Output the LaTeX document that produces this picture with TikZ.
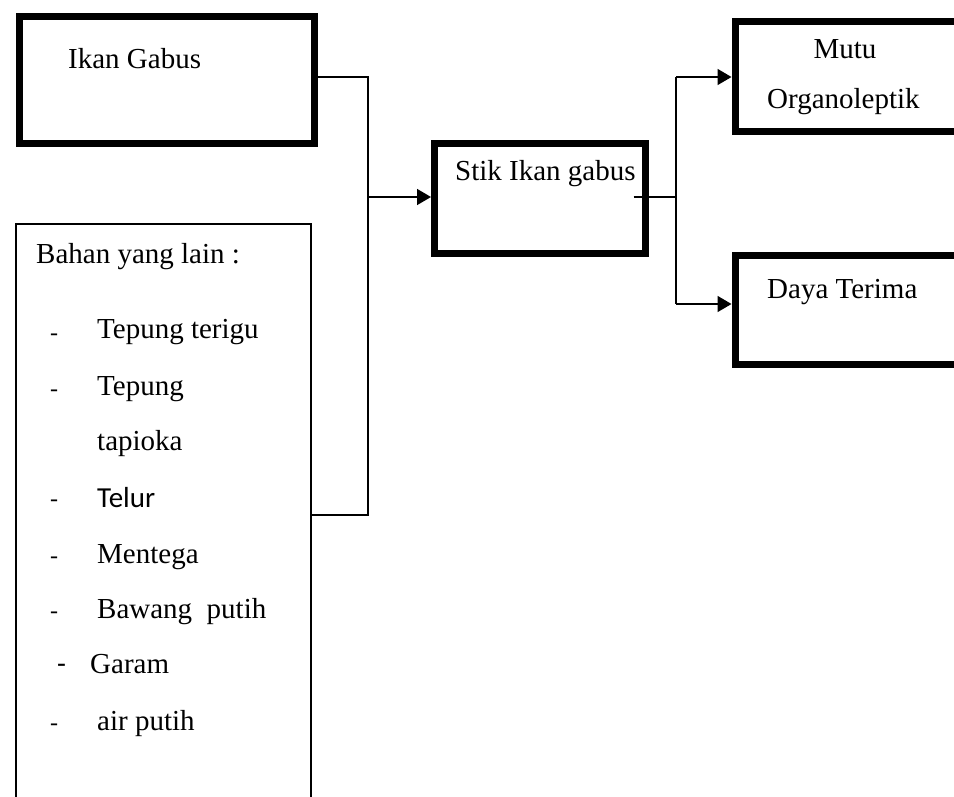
\documentclass[tikz,border=0pt]{standalone}
\usepackage{fontspec}
\setmainfont{Liberation Serif}
\newfontfamily\calfont{Carlito}
\usetikzlibrary{arrows.meta}
\tikzset{
  thickbox/.style={draw, line width=7pt, rectangle, inner sep=0pt, anchor=north west},
  thinbox/.style={draw, line width=2pt, rectangle, inner sep=0pt, anchor=north west},
  lbl/.style={font=\fontsize{29}{34}\selectfont, inner sep=0pt, anchor=base west},
  dashmark/.style={font=\fontsize{24}{28}\selectfont, inner sep=0pt, anchor=center},
  conn/.style={line width=1.6pt},
  arr/.style={line width=1.6pt, -{Triangle[length=14pt,width=16pt]}}
}
\begin{document}
\begin{tikzpicture}[x=1pt,y={(0pt,-1pt)}]
\useasboundingbox (0,0) rectangle (954,796);
% boxes
\node[thickbox, minimum width=295pt, minimum height=127pt] (ikan) at (15.5,12.5) {};
\node[thinbox, minimum width=295pt, minimum height=600pt] (bahan) at (15,223) {};
\node[thickbox, minimum width=210.5pt, minimum height=110pt] (stik) at (431,140) {};
\node[thickbox, minimum width=240pt, minimum height=110pt] (mutu) at (731.5,18) {};
\node[thickbox, minimum width=240pt, minimum height=109.5pt] (daya) at (731.5,251.5) {};
% texts
\node[lbl] (tikan) at (68,68) {Ikan Gabus};
\node[lbl] (tstik) at (455,180) {Stik Ikan gabus};
\node[lbl, anchor=base] (tmutu) at (845,58) {Mutu};
\node[lbl] (torg) at (767,108) {Organoleptik};
\node[lbl] (tdaya) at (767,298) {Daya Terima};
\node[lbl] (tbahan) at (36,263) {Bahan yang lain :};
\node[lbl] (i1) at (97,338) {Tepung terigu};
\node[lbl] (i2) at (97,395) {Tepung};
\node[lbl] (i3) at (97,450) {tapioka};
\node[lbl, font=\calfont\fontsize{29}{34}\selectfont] (i4) at (97,507) {Telur};
\node[lbl] (i5) at (97,563) {Mentega};
\node[lbl] (i6) at (97,618) {Bawang\ \ putih};
\node[lbl] (i7) at (90,673) {Garam};
\node[lbl] (i8) at (97,730) {air putih};
\node[dashmark] (d1) at (54,337) {-};
\node[dashmark] (d2) at (54,393) {-};
\node[dashmark] (d4) at (54,503) {-};
\node[dashmark] (d5) at (54,560) {-};
\node[dashmark] (d6) at (54,615) {-};
\node[lbl, font=\calfont\fontsize{29}{34}\selectfont] (d7) at (57,673) {-};
\node[dashmark] (d8) at (54,727) {-};
% connectors
\coordinate (top1) at (368,77);
\coordinate (j1) at (368,197);
\coordinate (bot1) at (368,515);
\coordinate (j2) at (676,197);
\coordinate (t1) at (676,77);
\coordinate (t2) at (676,304);
\draw[conn] (ikan.east |- top1) -- (top1) -- (bot1) -- (bot1 -| bahan.east);
\draw[arr] (j1) -- (j1 -| stik.west);
\draw[conn] ([xshift=-15pt]stik.east |- j2) -- (j2);
\draw[conn] (t1) -- (t2);
\draw[arr] (t1) -- (t1 -| mutu.west);
\draw[arr] (t2) -- (t2 -| daya.west);
\end{tikzpicture}
\end{document}
